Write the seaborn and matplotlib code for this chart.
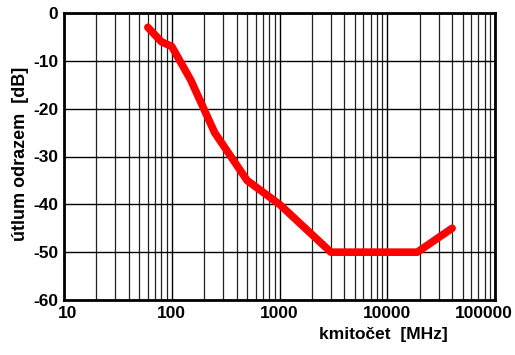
import matplotlib
matplotlib.use("Agg")
import matplotlib.pyplot as plt
import matplotlib.transforms as mtransforms
import seaborn as sns
import pandas as pd
from matplotlib.ticker import LogLocator

freq_mhz = [60, 80, 100, 150, 250, 500, 1000, 3000, 19000, 40000]
loss_db = [-3, -6, -7, -14, -25, -35, -40, -50, -50, -45]
x_ticks = [10, 100, 1000, 10000, 100000]
x_tick_labels = ["10", "100", "1000", "10000", "100000"]
y_ticks = [0, -10, -20, -30, -40, -50, -60]

sns.set_theme(style="white")
plt.rcParams['font.family'] = ['Liberation Sans', 'DejaVu Sans']
plt.rcParams['axes.unicode_minus'] = False

df = pd.DataFrame({"f": freq_mhz, "a": loss_db})
fig = plt.figure(figsize=(5.15, 3.55), dpi=100)
ax = fig.add_axes([64/515, 1-300/355, (495-64)/515, (300-13)/355])
sns.lineplot(data=df, x="f", y="a", ax=ax, color="#ff0000", linewidth=5.5,
             solid_capstyle="round", solid_joinstyle="round", sort=False, zorder=5)
ax.set_xscale("log")
ax.set_xlim(10, 100000)
ax.set_ylim(-60, 0)
ax.set_xticks(x_ticks)
ax.set_xticklabels(x_tick_labels)
ax.xaxis.set_minor_locator(LogLocator(base=10, subs=range(2, 10)))
ax.set_yticks(y_ticks)
ax.grid(True, which="major", axis="both", color="black", linewidth=1.0)
ax.grid(True, which="minor", axis="x", color="#222222", linewidth=0.9)
ax.tick_params(axis="both", which="both", length=0, labelsize=12.5, pad=4,
               labelcolor="black")
for lab in ax.get_xticklabels() + ax.get_yticklabels():
    lab.set_fontweight("bold")
xl = ax.get_xticklabels()
xl[0].set_transform(xl[0].get_transform() +
                    mtransforms.ScaledTranslation(4/100, 0, fig.dpi_scale_trans))
xl[-1].set_transform(xl[-1].get_transform() +
                     mtransforms.ScaledTranslation(-11/100, 0, fig.dpi_scale_trans))
for s in ax.spines.values():
    s.set_color("black")
    s.set_linewidth(2)
ax.set_xlabel("kmitočet  [MHz]", fontsize=12.5, fontweight="bold", labelpad=5,
              x=0.74, color="black")
ax.set_ylabel("útlum odrazem  [dB]", fontsize=13, fontweight="bold", labelpad=3,
              y=0.51, color="black")
fig.savefig("out.png", dpi=100)
